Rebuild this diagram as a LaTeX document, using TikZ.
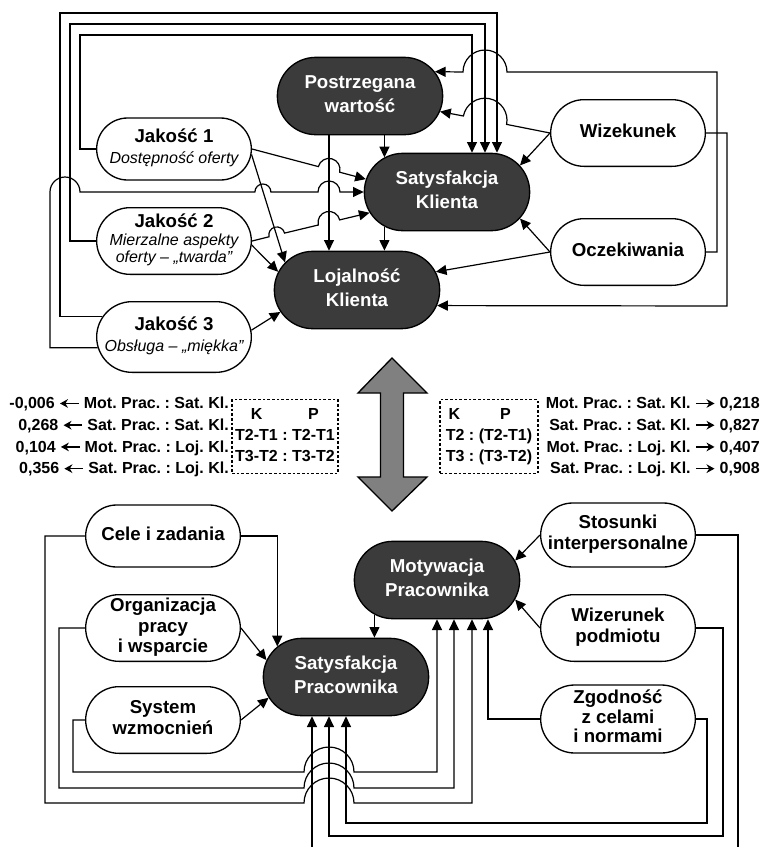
\documentclass[tikz,border=0pt]{standalone}
\usepackage{fontspec}
\setmainfont{Liberation Sans}
\usetikzlibrary{shapes.misc,arrows.meta,calc}
\frenchspacing

\newcommand{\sub}[1]{{\fontsize{12}{14}\selectfont\mdseries\itshape #1}}
\newcommand{\lbl}[1]{\makebox[0pt]{\begin{tabular}{@{}c@{}}#1\end{tabular}}}
\newcommand{\lar}{\tikz[baseline=-0.6ex]\draw[line width=1.1pt,{Stealth[length=6pt,width=6.5pt]}-](0pt,0pt)--(14pt,0pt);}
\newcommand{\rar}{\tikz[baseline=-0.6ex]\draw[line width=1.1pt,-{Stealth[length=6pt,width=6.5pt]}](0pt,0pt)--(14pt,0pt);}

\tikzset{
  base/.style={rounded rectangle, line width=1pt, inner xsep=0pt, inner ysep=1pt},
  dark/.style={base, draw=black, fill=black!77, text=white, font=\fontsize{14}{18}\selectfont\bfseries, minimum width=124pt, minimum height=58pt},
  light/.style={base, draw=black, fill=white, font=\fontsize{14}{15.5}\selectfont\bfseries, minimum width=116pt, minimum height=50pt},
  arr/.style={line width=0.9pt, -{Triangle[length=8pt,width=7.5pt]}},
  wire/.style={line width=0.9pt},
  stat/.style={font=\fontsize{12}{16.3}\selectfont\bfseries, align=right, inner sep=0pt},
  kpbox/.style={draw, line width=0.8pt, dash pattern=on 2pt off 1.5pt, font=\fontsize{12}{15.75}\selectfont\bfseries, inner sep=1pt, minimum height=55pt}
}

\begin{document}
\begin{tikzpicture}[x=0.75pt, y=-0.75pt]
\useasboundingbox (0,0) rectangle (765,847);

% klient
\node[dark] (PW) at (360,96) {\lbl{Postrzegana\\wartość}};
\node[dark] (SK) at (447,192) {\lbl{Satysfakcja\\Klienta}};
\node[dark] (LK) at (357,290) {\lbl{Lojalność\\Klienta}};
\node[light, minimum height=46.5pt] (J1) at (174,149) {\lbl{Jakość 1\\\sub{Dostępność oferty}}};
\node[light] (J2) at (174,241) {\lbl{Jakość 2\\[-2pt]\sub{Mierzalne aspekty}\\[-3pt]\sub{oferty – „twarda”}}};
\node[light, minimum height=53pt] (J3) at (174,337) {\lbl{Jakość 3\\\sub{Obsługa – „miękka”}}};
\node[light] (W) at (628,133) {\lbl{Wizekunek}};
\node[light] (O) at (628,252) {\lbl{Oczekiwania}};

\draw[arr] (PW.south -| SK.151) -- (SK.151);
\draw[arr] ($(PW.south)+(-31,0)$) -- ($(LK.north)+(-28,0)$);
\draw[arr] (SK.209) -- (SK.209 |- LK.north);
\draw[arr] (J1.east) -- (318.37,166.6) arc[start angle=165.26, end angle=-14.74, radius=8.25pt] -- (SK.171);
\draw[arr] (J1.-4) -- (LK.159);
\draw[arr] (J2.east) -- (269.0,236.8) arc[start angle=193.43, end angle=13.43, radius=6pt] -- (318.3,225.0) arc[start angle=193.43, end angle=13.43, radius=8.25pt] -- (SK.195);
\draw[arr] (J2.-3) -- (LK.167);
\draw[arr] (J3.5) -- (LK.196);
\draw[arr] (J3.188) -| (50,192) arc[start angle=180, end angle=0, radius=11.25pt] -- (254.9,192) arc[start angle=180, end angle=0, radius=6pt] -- (318,192) arc[start angle=180, end angle=0, radius=8.25pt] -- (SK.west);
\draw[arr] (J1.west) -| (80,35) -| ($(SK.north)+(25,0)$);
\draw[arr] (J2.west) -| (70,24) -| ($(SK.north)+(38,0)$);
\draw[arr] (J3.164) -| (60,13) -| ($(SK.north)+(50,0)$);
\draw[arr] (W.west) -- (SK.20);
\draw[arr] (W.west) -- (506.6,124.4) arc[start angle=-11, end angle=169, radius=16.5pt] -- (PW.-11);
\draw[arr] (O.east) -| (717,72) -- (507,72) arc[start angle=0, end angle=180, radius=16.5pt] -- (PW.18);
\draw[arr] (W.east) -| (727,306) -- (LK.-11);
\draw[arr] (O.west) -- (SK.-20);
\draw[arr] (O.west) -- (LK.13);

% strzalka i wyniki
\draw[line width=1pt, fill=black!50] (392,358) -- (427,393) -- (403.5,393) -- (403.5,477) -- (427,477) -- (392,511) -- (358,477) -- (380.5,477) -- (380.5,393) -- (358,393) -- cycle;
\node[stat, anchor=east] (statL) at (229,437) {-0,006 \lar{} Mot. Prac. : Sat. Kl.\\0,268 \lar{} Sat. Prac. : Sat. Kl.\\0,104 \lar{} Mot. Prac. : Loj. Kl.\\0,356 \lar{} Sat. Prac. : Loj. Kl.};
\node[kpbox, minimum width=79.5pt] (kpL) at (285,436.5) {\begin{tabular}{@{}c@{\ }c@{\ }c@{}}K & & P\\T2-T1 & : & T2-T1\\T3-T2 & : & T3-T2\end{tabular}};
\node[kpbox, minimum width=73.5pt] (kpR) at (489,436.5) {\begin{tabular}{@{}l@{\ }c@{\ }c@{}}\,K & & P\\T2 & : & (T2-T1)\\T3 & : & (T3-T2)\end{tabular}};
\node[stat, anchor=east] (statR) at (760,437) {Mot. Prac. : Sat. Kl. \rar{} 0,218\\Sat. Prac. : Sat. Kl. \rar{} 0,827\\Mot. Prac. : Loj. Kl. \rar{} 0,407\\Sat. Prac. : Loj. Kl. \rar{} 0,908};

% pracownik
\node[dark] (MP) at (437,580) {\lbl{Motywacja\\Pracownika}};
\node[dark] (SP) at (346,677) {\lbl{Satysfakcja\\Pracownika}};
\node[light, minimum height=46.5pt] (CZ) at (163,536) {\lbl{Cele i zadania}};
\node[light] (OP) at (163,628) {\lbl{Organizacja\\pracy\\i wsparcie}};
\node[light] (SW) at (163,720) {\lbl{System\\wzmocnień}};
\node[light, minimum height=48pt] (SI) at (618,535) {\lbl{Stosunki\\interpersonalne}};
\node[light] (WP) at (618,628) {\lbl{Wizerunek\\podmiotu}};
\node[light, minimum height=51pt] (ZG) at (618,719) {\lbl{Zgodność\\[-1pt]z celami\\[-1pt]i normami}};
\coordinate (outR) at (738,847);
\coordinate (outL) at (312,847);

\draw[arr] (MP.209) -- (MP.209 |- SP.north);
\draw[arr] (CZ.east) -| (SP.156);
\draw[arr] (OP.east) -- (SP.168);
\draw[arr] (SW.east) -- (SP.195);
\draw[arr] (SI.west) -- (MP.14);
\draw[arr] (WP.west) -- (MP.-14);
\draw[arr] (SW.west) -| (73,772) -- (304,772) arc[start angle=180, end angle=0, radius=18.75pt] -| (MP.south);
\draw[arr] (OP.west) -| (59,788) -- (304,788) arc[start angle=180, end angle=0, radius=18.75pt] -| ($(MP.south)+(17,0)$);
\draw[arr] (CZ.west) -| (45,803) -- (304,803) arc[start angle=180, end angle=0, radius=18.75pt] -| ($(MP.south)+(35,0)$);
\draw[arr] (ZG.west) -| ($(MP.south)+(51,0)$);
\draw[arr] (ZG.east) -| (707,823) -| (SP.south);
\draw[arr] (WP.east) -| (723,836) -| ($(SP.south)+(-17,0)$);
\draw[wire] (SI.east) -| (outR);
\draw[arr] (outL) -- (outL |- SP.south);
\end{tikzpicture}
\end{document}
